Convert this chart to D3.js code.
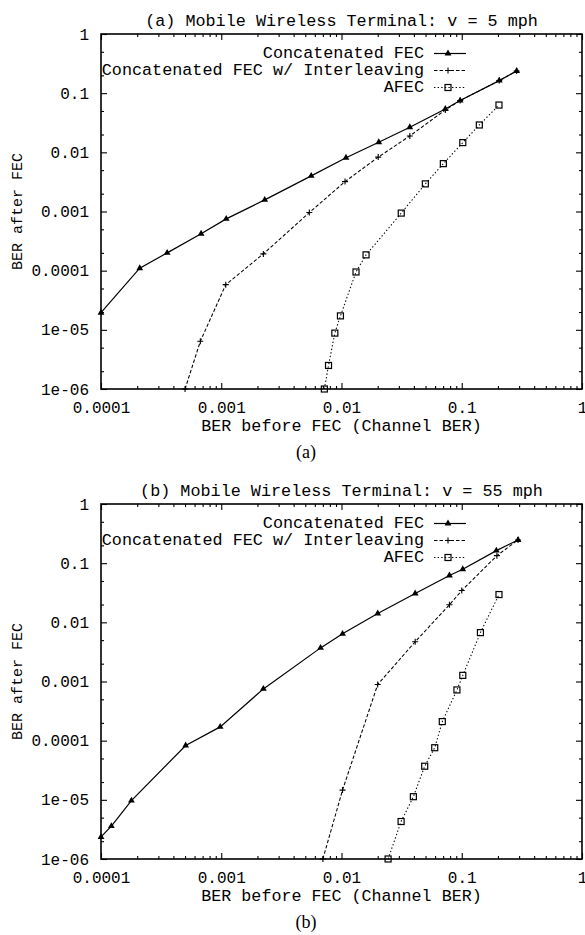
<!DOCTYPE html>
<html>
<head>
<meta charset="utf-8">
<script src="https://cdn.jsdelivr.net/npm/d3@7"></script>
<style>
  body { margin: 0; background: #fff; }
  svg text { font-family: "Liberation Mono", "DejaVu Sans Mono", monospace; fill: #000; }
</style>
</head>
<body>
<svg id="chart" width="585" height="935"></svg>
<script>
// tick values + labels (same for both panels)
const xTickVals = [1e-4, 1e-3, 1e-2, 1e-1, 1];
const xTickText = ["0.0001", "0.001", "0.01", "0.1", "1"];
const yTickVals = [1e-6, 1e-5, 1e-4, 1e-3, 1e-2, 1e-1, 1];
const yTickText = ["1e-06", "1e-05", "0.0001", "0.001", "0.01", "0.1", "1"];

const seriesNames = ["Concatenated FEC", "Concatenated FEC w/ Interleaving", "AFEC"];

// (a) v = 5 mph   [channel BER, BER after FEC]
const concat5 = [[1e-4, 1.95e-5], [2.1e-4, 1.1e-4], [3.55e-4, 2e-4], [6.8e-4, 4.2e-4], [1.1e-3, 7.5e-4],
  [2.3e-3, 1.57e-3], [5.6e-3, 4e-3], [1.09e-2, 8.1e-3], [2.04e-2, 1.48e-2], [3.7e-2, 2.65e-2],
  [7.3e-2, 5.4e-2], [9.7e-2, 7.5e-2], [0.205, 0.163], [0.286, 0.237]];
const inter5 = [[5e-4, 1e-6], [6.7e-4, 6.4e-6], [1.09e-3, 5.8e-5], [2.24e-3, 1.92e-4], [5.4e-3, 9.6e-4],
  [1.07e-2, 3.2e-3], [2.02e-2, 8.3e-3], [3.7e-2, 1.89e-2], [7.3e-2, 5.2e-2], [9.7e-2, 7.5e-2],
  [0.205, 0.163], [0.286, 0.237]];
const afec5 = [[7.2e-3, 1e-6], [7.8e-3, 2.5e-6], [8.8e-3, 8.8e-6], [9.8e-3, 1.72e-5], [1.32e-2, 9.5e-5],
  [1.6e-2, 1.85e-4], [3.14e-2, 9.4e-4], [4.98e-2, 2.93e-3], [7.03e-2, 6.44e-3], [0.102, 1.46e-2],
  [0.14, 2.9e-2], [0.204, 6.3e-2]];

// (b) v = 55 mph
const concat55 = [[1e-4, 2.36e-6], [1.22e-4, 3.6e-6], [1.79e-4, 9.7e-6], [5.06e-4, 8.3e-5], [9.8e-4, 1.71e-4],
  [2.24e-3, 7.5e-4], [6.7e-3, 3.7e-3], [1.02e-2, 6.4e-3], [2e-2, 1.41e-2], [4.1e-2, 3.07e-2],
  [7.9e-2, 6.2e-2], [0.102, 7.9e-2], [0.194, 0.163], [0.294, 0.247]];
const inter55 = [[7e-3, 1e-6], [1.02e-2, 1.46e-5], [2e-2, 8.9e-4], [4.1e-2, 4.7e-3], [7.9e-2, 1.98e-2],
  [0.1, 3.45e-2], [0.196, 0.134], [0.294, 0.247]];
const afec55 = [[2.44e-2, 1e-6], [3.13e-2, 4.3e-6], [3.96e-2, 1.13e-5], [4.92e-2, 3.7e-5], [5.96e-2, 7.6e-5],
  [6.89e-2, 2.1e-4], [9.12e-2, 7.2e-4], [0.102, 1.27e-3], [0.143, 6.7e-3], [0.204, 2.95e-2]];

const panels = [
  { title: "(a) Mobile Wireless Terminal: v = 5 mph", caption: "(a)", top: 34, data: [concat5, inter5, afec5] },
  { title: "(b) Mobile Wireless Terminal: v = 55 mph", caption: "(b)", top: 504, data: [concat55, inter55, afec55] }
];

// line styles per series
const dashes = [null, "3.5,2", "1.4,2.2"];
const markers = ["tri", "plus", "square"];

const svg = d3.select("#chart");
const left = 101, right = 582, plotH = 355;

// minor ticks, only 2 and 5 show on y in the scan, x has all of them
const xMinor = [];
for (let e = -4; e < 0; e++) for (let m = 2; m <= 9; m++) xMinor.push(m * Math.pow(10, e));
const yMinor = [];
for (let e = -6; e < 0; e++) { yMinor.push(2 * Math.pow(10, e)); yMinor.push(5 * Math.pow(10, e)); }

function drawMarker(g, kind, x, y) {
  if (kind === "tri") {
    g.append("path")
      .attr("d", d3.symbol().type(d3.symbolTriangle).size(20)())
      .attr("transform", `translate(${x},${y})`)
      .attr("fill", "#000");
  } else if (kind === "plus") {
    g.append("path")
      .attr("d", `M${x - 3},${y}H${x + 3}M${x},${y - 3}V${y + 3}`)
      .attr("stroke", "#000").attr("stroke-width", 1.1);
  } else {
    g.append("rect")
      .attr("x", x - 3).attr("y", y - 3).attr("width", 6).attr("height", 6)
      .attr("fill", "none").attr("stroke", "#000").attr("stroke-width", 1.2);
  }
}

function styleAxis(g, size) {
  g.select(".domain").remove();
  g.selectAll("line").attr("stroke", "#000").attr("stroke-width", 1.1);
  g.selectAll("text").attr("font-family", null).attr("font-size", size);
}

panels.forEach((p, pi) => {
  const top = p.top, bottom = top + plotH;
  const x = d3.scaleLog().domain([1e-4, 1]).range([left, right]);
  const y = d3.scaleLog().domain([1e-6, 1]).range([bottom, top]);

  const g = svg.append("g").attr("class", "panel-" + pi);

  // title
  g.append("text").attr("x", (left + right) / 2).attr("y", top - 8)
    .attr("text-anchor", "middle").attr("font-size", 16.8).text(p.title);

  // major ticks with labels (ticks point inward)
  g.append("g").attr("transform", `translate(0,${bottom})`)
    .call(d3.axisBottom(x).tickValues(xTickVals).tickFormat((d, i) => xTickText[i]).tickSize(-6).tickPadding(13))
    .call(a => styleAxis(a, 16));
  g.append("g").attr("transform", `translate(${left},0)`)
    .call(d3.axisLeft(y).tickValues(yTickVals).tickFormat((d, i) => yTickText[i]).tickSize(-6).tickPadding(12))
    .call(a => styleAxis(a, 16));
  g.append("g").attr("transform", `translate(0,${top})`)
    .call(d3.axisTop(x).tickValues(xTickVals).tickFormat("").tickSize(-6))
    .call(a => styleAxis(a, 16));
  g.append("g").attr("transform", `translate(${right},0)`)
    .call(d3.axisRight(y).tickValues(yTickVals).tickFormat("").tickSize(-6))
    .call(a => styleAxis(a, 16));

  // minor ticks
  g.append("g").attr("transform", `translate(0,${bottom})`)
    .call(d3.axisBottom(x).tickValues(xMinor).tickFormat("").tickSize(-3)).call(a => styleAxis(a, 16));
  g.append("g").attr("transform", `translate(0,${top})`)
    .call(d3.axisTop(x).tickValues(xMinor).tickFormat("").tickSize(-3)).call(a => styleAxis(a, 16));
  g.append("g").attr("transform", `translate(${left},0)`)
    .call(d3.axisLeft(y).tickValues(yMinor).tickFormat("").tickSize(-3)).call(a => styleAxis(a, 16));
  g.append("g").attr("transform", `translate(${right},0)`)
    .call(d3.axisRight(y).tickValues(yMinor).tickFormat("").tickSize(-3)).call(a => styleAxis(a, 16));

  // frame
  g.append("rect").attr("x", left).attr("y", top).attr("width", right - left).attr("height", plotH)
    .attr("fill", "none").attr("stroke", "#000").attr("stroke-width", 1.6);

  // axis labels
  g.append("text").attr("x", (left + right) / 2).attr("y", bottom + 42)
    .attr("text-anchor", "middle").attr("font-size", 16.7).text("BER before FEC (Channel BER)");
  g.append("text").attr("transform", `translate(18,${(top + bottom) / 2}) rotate(-90)`)
    .attr("text-anchor", "middle").attr("dominant-baseline", "middle")
    .attr("font-size", 15).text("BER after FEC");

  // caption under the panel
  g.append("text").attr("x", 306).attr("y", bottom + 69)
    .attr("text-anchor", "middle").attr("font-size", 18)
    .style("font-family", "'Liberation Serif', 'DejaVu Serif', serif").text(p.caption);

  // series
  const line = d3.line().x(d => x(d[0])).y(d => y(d[1]));
  p.data.forEach((s, si) => {
    g.append("path").datum(s).attr("d", line)
      .attr("fill", "none").attr("stroke", "#000")
      .attr("stroke-width", si === 0 ? 1.2 : 1.05)
      .attr("stroke-dasharray", dashes[si]);
    const mg = g.append("g");
    s.forEach(d => drawMarker(mg, markers[si], x(d[0]), y(d[1])));
  });

  // legend, right aligned text, sample line to the right
  seriesNames.forEach((name, i) => {
    const ly = top + 19.5 + i * 17;
    g.append("text").attr("x", 424).attr("y", ly).attr("text-anchor", "end")
      .attr("dominant-baseline", "middle").attr("font-size", 16.8).text(name);
    g.append("line").attr("x1", 434).attr("x2", 466).attr("y1", ly).attr("y2", ly)
      .attr("stroke", "#000").attr("stroke-width", i === 0 ? 1.2 : 1.05)
      .attr("stroke-dasharray", dashes[i]);
    drawMarker(g, markers[i], 448, ly);
  });
});
</script>
</body>
</html>
